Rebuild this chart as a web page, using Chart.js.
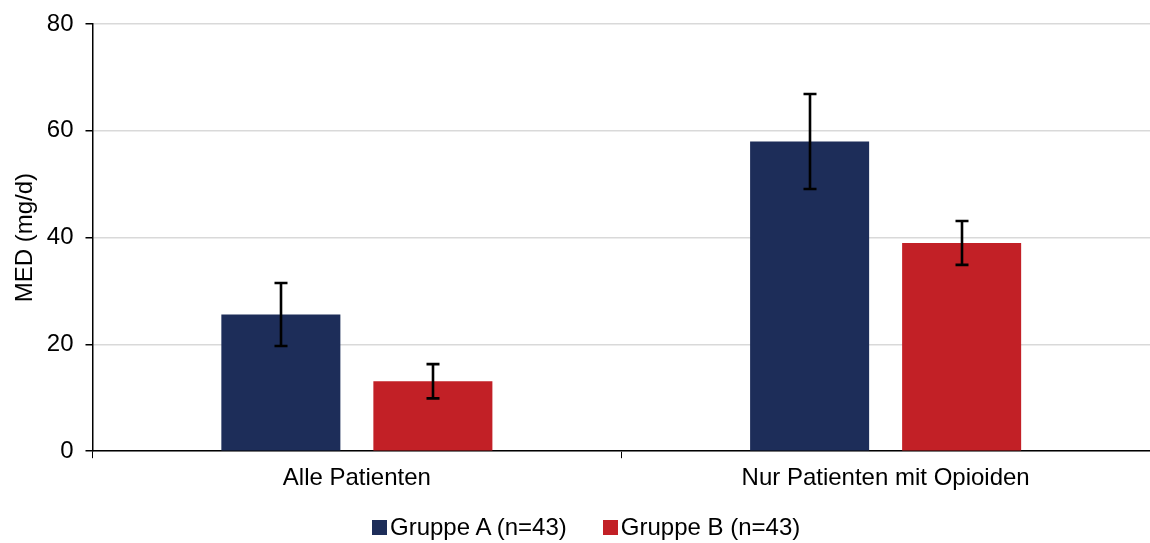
<!DOCTYPE html>
<html>
<head>
<meta charset="utf-8">
<script src="https://cdn.jsdelivr.net/npm/chart.js@4/dist/chart.umd.min.js"></script>
<style>
  html, body { margin: 0; padding: 0; background: #fff; }
  #wrap { position: relative; width: 1150px; height: 543px; overflow: hidden; }
  #legend {
    position: absolute; left: 372px; top: 512px; height: 30px;
    display: flex; align-items: center;
    font-family: 'Liberation Sans', Arial, sans-serif; font-size: 24px; color: #000;
    white-space: nowrap;
  }
  .item { display: flex; align-items: center; margin-right: 36px; }
  .box { width: 15px; height: 15px; margin-right: 3px; }
</style>
</head>
<body>
<div id="wrap">
  <canvas id="c" width="1150" height="543"></canvas>
  <div id="legend"></div>
</div>
<script>
// Mean morphine-equivalent dose per group, with error half-widths
const categories = ['Alle Patienten', 'Nur Patienten mit Opioiden'];
const seriesNames = ['Gruppe A (n=43)', 'Gruppe B (n=43)'];
const groupA = [25.6, 58.0];
const groupAErr = [5.9, 8.9];
const groupB = [13.1, 39.0];
const groupBErr = [3.2, 4.1];
const yTicks = [0, 20, 40, 60, 80];
const colors = ['#1d2d59', '#c22026'];

const FONT = "'Liberation Sans', Arial, sans-serif";

// Draws symmetric error bars with caps on top of each bar
const errorBars = {
  id: 'errorBars',
  afterDatasetsDraw(chart) {
    const ctx = chart.ctx;
    const y = chart.scales.y;
    chart.data.datasets.forEach((ds, i) => {
      const meta = chart.getDatasetMeta(i);
      meta.data.forEach((bar, j) => {
        const v = ds.data[j], e = ds.errors[j];
        const top = y.getPixelForValue(v + e);
        const bot = y.getPixelForValue(v - e);
        const x = Math.round(bar.x);
        ctx.save();
        ctx.strokeStyle = '#000';
        ctx.lineWidth = 2.6;
        ctx.beginPath();
        ctx.moveTo(x, top); ctx.lineTo(x, bot);
        ctx.moveTo(x - 6.5, top); ctx.lineTo(x + 6.5, top);
        ctx.moveTo(x - 6.5, bot); ctx.lineTo(x + 6.5, bot);
        ctx.stroke();
        ctx.restore();
      });
    });
  }
};

const chart = new Chart(document.getElementById('c'), {
  type: 'bar',
  data: {
    labels: categories,
    datasets: [
      { label: seriesNames[0], data: groupA, errors: groupAErr, backgroundColor: colors[0] },
      { label: seriesNames[1], data: groupB, errors: groupBErr, backgroundColor: colors[1] }
    ]
  },
  options: {
    responsive: false,
    animation: false,
    devicePixelRatio: 1,
    categoryPercentage: 0.575,
    barPercentage: 0.783,
    layout: { padding: { top: 0, right: -3, left: 9, bottom: 44 } },
    plugins: {
      legend: { display: false },
      tooltip: { enabled: false }
    },
    scales: {
      x: {
        grid: { display: true, drawOnChartArea: false, color: '#000', tickLength: 7, offset: true },
        border: { color: '#000', width: 1.5 },
        ticks: { font: { family: FONT, size: 24 }, color: '#000', padding: 6 }
      },
      y: {
        min: 0, max: 80,
        afterBuildTicks(scale) { scale.ticks = yTicks.map(v => ({ value: v })); },
        grid: { color: '#d9d9d9', lineWidth: 1.5, tickColor: '#000', tickLength: 7 },
        border: { color: '#000', width: 1.5 },
        ticks: { font: { family: FONT, size: 24, lineHeight: 1 }, color: '#000', padding: 12 },
        title: {
          display: true, text: 'MED (mg/d)',
          font: { family: FONT, size: 24 }, color: '#000',
          padding: { top: 2, bottom: -5 }
        }
      }
    }
  },
  plugins: [errorBars]
});

// Legend below the plot
const legend = document.getElementById('legend');
chart.data.datasets.forEach((ds, i) => {
  const item = document.createElement('div');
  item.className = 'item';
  const box = document.createElement('span');
  box.className = 'box';
  box.style.background = ds.backgroundColor;
  const label = document.createElement('span');
  label.textContent = ds.label;
  item.appendChild(box);
  item.appendChild(label);
  legend.appendChild(item);
});
</script>
</body>
</html>
